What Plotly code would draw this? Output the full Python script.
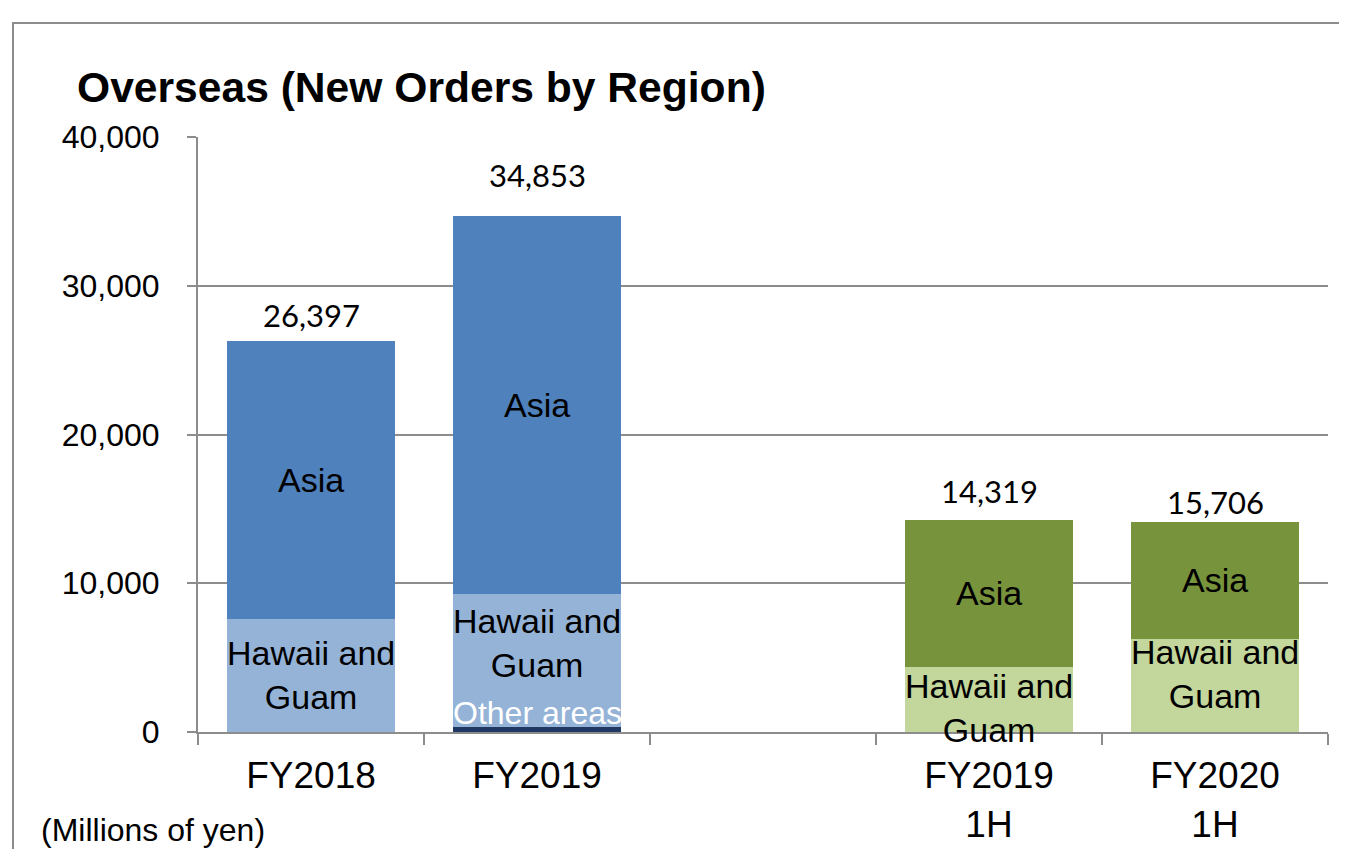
import plotly.graph_objects as go

# ---- data ----
categories = ["FY2018", "FY2019", " ", "FY2019<br>1H", "FY2020<br>1H"]
other_areas = [0, 310, None, 0, 0]
hawaii_guam = [7600, 8970, None, 4380, 6260]
asia = [18660, 25380, None, 9870, 7860]
total_labels = ["26,397", "34,853", "", "14,319", "15,706"]
y_ticks = [0, 10000, 20000, 30000, 40000]

# colours per bar (blue for full years, green for half years)
asia_colors = ["#4F81BD", "#4F81BD", "#4F81BD", "#77933C", "#77933C"]
hawaii_colors = ["#95B3D7", "#95B3D7", "#95B3D7", "#C3D69B", "#C3D69B"]
other_colors = ["#1F3864", "#1F3864", "#1F3864", "#4F6228", "#4F6228"]

FONT = "Liberation Sans, Arial, sans-serif"

# page has an 8px body margin; figure coordinates = screen - 8
OFF = 8
PL, PR, PT, PB = 198, 1328, 137, 732  # plot area in screen px
PW, PH = PR - PL, PB - PT


def px(xs):
    return (xs - PL) / PW


def py(ys):
    return (PB - ys) / PH


fig = go.Figure()
fig.add_trace(go.Bar(x=categories, y=other_areas, name="Other areas",
                     marker=dict(color=other_colors, line=dict(width=0))))
fig.add_trace(go.Bar(x=categories, y=hawaii_guam, name="Hawaii and Guam",
                     marker=dict(color=hawaii_colors, line=dict(width=0))))
fig.add_trace(go.Bar(x=categories, y=asia, name="Asia",
                     marker=dict(color=asia_colors, line=dict(width=0))))

annotations = []
# total labels above bars
total_shift = [26, 41, 0, 29, 20]
for i, c in enumerate(categories):
    if not total_labels[i]:
        continue
    top = (other_areas[i] or 0) + (hawaii_guam[i] or 0) + (asia[i] or 0)
    annotations.append(dict(x=c, y=top, xref="x", yref="y", text=total_labels[i],
                            showarrow=False, yanchor="middle", yshift=total_shift[i],
                            font=dict(family="Lato, sans-serif", size=31, color="#000")))

# segment labels
asia_shift = [0, 0, 0, 0, 0]
hawaii_shift = [0, 18, 0, -9, 11]
for i, c in enumerate(categories):
    if hawaii_guam[i] is None:
        continue
    o = other_areas[i] or 0
    h = hawaii_guam[i]
    a = asia[i]
    annotations.append(dict(x=c, y=o + h + a / 2, xref="x", yref="y", text="Asia",
                            showarrow=False, yanchor="middle", yshift=asia_shift[i],
                            font=dict(family=FONT, size=34, color="#000")))
    annotations.append(dict(x=c, y=o + h / 2, xref="x", yref="y",
                            text="Hawaii and<br>Guam", showarrow=False,
                            yanchor="middle", yshift=hawaii_shift[i],
                            font=dict(family=FONT, size=34, color="#000")))
# "Other areas" label on FY2019
annotations.append(dict(x=categories[1], y=other_areas[1], xref="x", yref="y",
                        text="Other areas", showarrow=False, yanchor="middle",
                        yshift=14, font=dict(family=FONT, size=32, color="#FFFFFF")))

# title and unit
annotations.append(dict(x=px(75), y=py(87), xref="paper", yref="paper",
                        text="<b>Overseas (New Orders by Region)</b>", showarrow=False,
                        xanchor="left", yanchor="middle",
                        font=dict(family=FONT, size=42.6, color="#000")))
annotations.append(dict(x=px(40), y=py(830), xref="paper", yref="paper",
                        text="(Millions of yen)", showarrow=False,
                        xanchor="left", yanchor="middle", borderpad=0,
                        font=dict(family=FONT, size=32, color="#000")))

W, H = 1347 - OFF, 849 - OFF
fig.update_layout(
    width=W, height=H,
    margin=dict(l=PL - OFF, r=W - (PR - OFF), t=PT - OFF, b=H - (PB - OFF),
                autoexpand=False),
    barmode="stack", bargap=0.26,
    showlegend=False,
    plot_bgcolor="white", paper_bgcolor="white",
    annotations=annotations,
    shapes=[dict(type="rect", xref="paper", yref="paper",
                 x0=px(13), x1=px(1420),
                 y0=py(920), y1=py(23),
                 line=dict(color="#8C8C8C", width=2), layer="below")],
)
fig.update_xaxes(
    type="category", tickson="boundaries", ticks="outside", ticklen=11,
    tickwidth=2, tickcolor="#8C8C8C", showline=True, linecolor="#8C8C8C",
    linewidth=2, showgrid=False, automargin=False,
    tickfont=dict(family=FONT, size=37, color="#000"),
    ticklabelstandoff=10,
)
fig.update_yaxes(
    range=[0, 40000], tickvals=y_ticks, tickformat=",", ticks="outside",
    ticklen=9, tickwidth=2, tickcolor="#8C8C8C", showline=True,
    linecolor="#8C8C8C", linewidth=2, showgrid=True, gridcolor="#8C8C8C",
    gridwidth=2, zeroline=False, automargin=False,
    tickfont=dict(family=FONT, size=32, color="#000"),
    ticklabelstandoff=21,
)

fig.write_html("out.html")
